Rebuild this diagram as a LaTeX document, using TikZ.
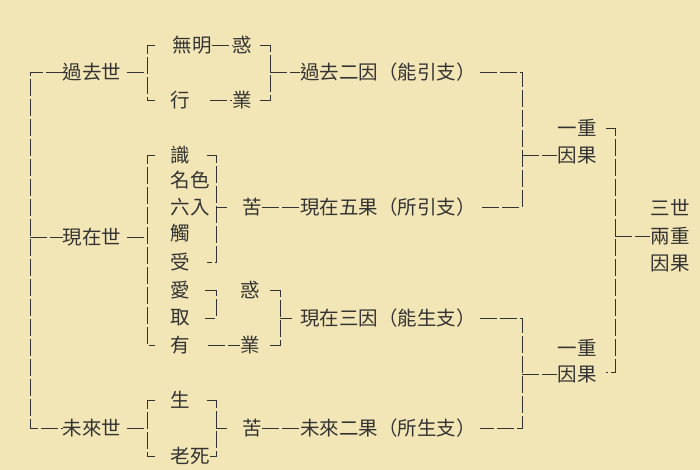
\documentclass[tikz,border=0pt]{standalone}
\usepackage{fontspec}
\newfontfamily\cjk{Noto Sans CJK TC}
\definecolor{bg}{HTML}{F3E6B6}
\definecolor{ink}{HTML}{333333}
\begin{document}
\begin{tikzpicture}[x=1pt,y=-1pt,
  t/.style={font=\cjk\fontsize{19.5}{20}\selectfont,text=ink,inner sep=0pt},
  ln/.style={draw=ink,line width=0.8pt,dash pattern=on 17pt off 3pt}]
\fill[bg] (0,0) rectangle (700,470);
\useasboundingbox (0,0) rectangle (700,470);
% texts
\node[t] (gq) at (92,72) {過去世};
\node[t] (xz) at (92,237) {現在世};
\node[t] (wl) at (92,428) {未來世};
\node[t] (wm) at (192,45) {無明};
\node[t] (h1) at (242,45) {惑};
\node[t] (xing) at (180,100) {行};
\node[t] (y1) at (242,100) {業};
\node[t] (sh) at (180,155) {識};
\node[t] at (190,180) {名色};
\node[t] at (190,207) {六入};
\node[t] at (180,233) {觸};
\node[t] at (180,262) {受};
\node[t] (ai) at (180,290) {愛};
\node[t] (qu) at (180,318) {取};
\node[t] (you) at (180,345) {有};
\node[t] (h2) at (250,290) {惑};
\node[t] (y2) at (250,345) {業};
\node[t] (sheng) at (180,400) {生};
\node[t] (ls) at (190,456) {老死};
\node[t] (k1) at (252,207) {苦};
\node[t] (k2) at (252,428) {苦};
\node[t,anchor=west] (r1) at (300,72) {過去二因（能引支）};
\node[t,anchor=west] (r2) at (300,207) {現在五果（所引支）};
\node[t,anchor=west] (r3) at (300,318) {現在三因（能生支）};
\node[t,anchor=west] (r4) at (300,428) {未來二果（所生支）};
\node[t] (a1) at (577,128) {一重};
\node[t] (a2) at (577,155) {因果};
\node[t] (b1) at (577,348) {一重};
\node[t] (b2) at (577,374) {因果};
\node[t] (c1) at (670,208) {三世};
\node[t] (c2) at (670,236) {兩重};
\node[t] (c3) at (670,263) {因果};
% left main bracket
\draw[ln] (gq.west) -- (30,72) -- (30,428) -- (wl.west);
\draw[ln] (30,237) -- (xz.west);
% past
\draw[ln] (155,45) -- (147,45) -- (147,100) -- (155,100);
\draw[ln] (gq.east)++(6,0) -- (147,72);
\draw[ln] (wm.east) -- (h1.west);
\draw[ln] (210,100) -- (y1.west);
\draw[ln] (260,45) -- (270,45) -- (270,100) -- (260,100);
\draw[ln] (270,72) -- (r1.west);
% present
\draw[ln] (155,155) -- (147,155) -- (147,345) -- (155,345);
\draw[ln] (xz.east)++(6,0) -- (147,237);
\draw[ln] (207,155) -- (216,155) -- (216,262) -- (207,262);
\draw[ln] (216,207) -- (227,207);
\draw[ln] (k1.east) -- (r2.west);
\draw[ln] (205,290) -- (216,290) -- (216,318) -- (205,318);
\draw[ln] (208,345) -- (y2.west);
\draw[ln] (270,290) -- (280,290) -- (280,345) -- (270,345);
\draw[ln] (280,318) -- (292,318);
% future
\draw[ln] (155,400) -- (147,400) -- (147,456) -- (155,456);
\draw[ln] (wl.east)++(6,0) -- (147,428);
\draw[ln] (207,400) -- (216,400) -- (216,456) -- (ls.east);
\draw[ln] (216,428) -- (227,428);
\draw[ln] (k2.east) -- (r4.west);
% right joins
\draw[ln] (r1.east)++(4,0) -- (522,72) -- (522,207) -- ([xshift=4pt]r2.east);
\draw[ln] (522,155) -- (a2.west);
\draw[ln] (r3.east)++(4,0) -- (522,318) -- (522,428) -- ([xshift=4pt]r4.east);
\draw[ln] (522,374) -- (b2.west);
\draw[ln] (606,128) -- (615,128) -- (615,372) -- (606,372);
\draw[ln] (615,236) -- (c2.west);
\end{tikzpicture}
\end{document}
